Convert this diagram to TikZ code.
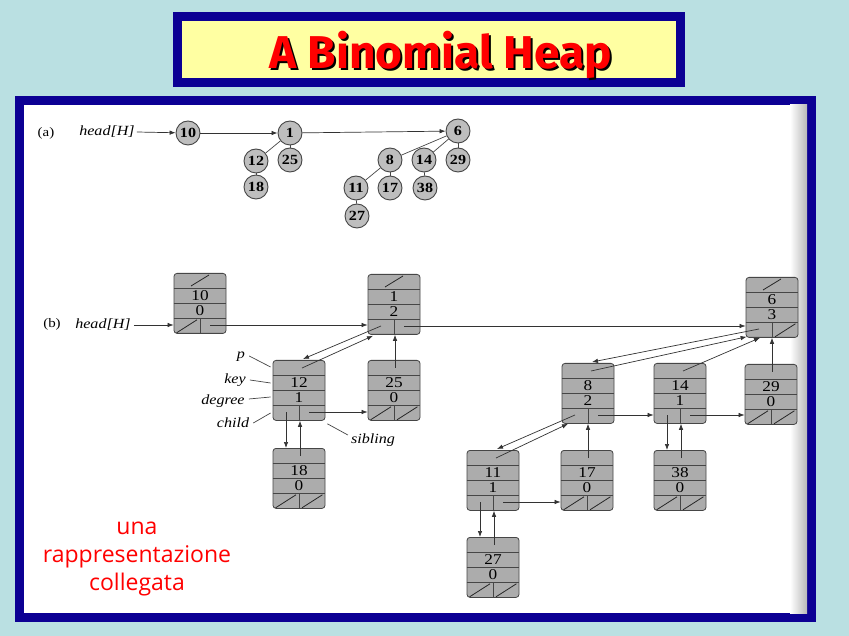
\documentclass[tikz,border=0pt]{standalone}
\usepackage{fontspec}
\setmainfont{Liberation Serif}
\newfontfamily\scanfont[FakeStretch=1.15]{Liberation Serif}
\newfontfamily\headfont{Fira Sans}
\newfontfamily\notefont{Open Sans}
\usetikzlibrary{arrows.meta,calc}

\definecolor{slidebg}{RGB}{186,224,226}
\definecolor{frameblue}{RGB}{12,0,148}
\definecolor{titleyellow}{RGB}{255,255,162}
\definecolor{titlered}{RGB}{255,0,0}
\definecolor{cellgray}{RGB}{172,172,172}
\definecolor{ballgray}{RGB}{190,190,190}
\definecolor{inkgray}{RGB}{70,70,70}

\tikzset{
  hbox/.style={draw=inkgray, fill=cellgray, rounded corners=3pt,
    minimum width=52pt, minimum height=60pt, inner sep=0pt, anchor=north,
    line width=0.8pt},
  rowline/.style={draw=inkgray, line width=0.8pt},
  nilmark/.style={draw=black!85, line width=0.8pt},
  ptr/.style={draw=black!80, line width=0.7pt, -{Latex[length=6pt,width=4.5pt]}},
  link/.style={draw=inkgray, line width=0.7pt},
  circ/.style={circle, draw=inkgray, fill=ballgray, minimum size=24pt,
    inner sep=0pt, line width=0.9pt,
    font=\scanfont\bfseries\fontsize{14}{14}\selectfont},
  fieldtxt/.style={inner sep=0pt, font=\scanfont\fontsize{15}{15}\selectfont},
  lbl/.style={inner sep=0pt, font=\scanfont\itshape\fontsize{14}{14}\selectfont},
  plainlbl/.style={inner sep=0pt, font=\scanfont\fontsize{13}{13}\selectfont},
  titletxt/.style={inner sep=0pt, anchor=base,
    font=\headfont\bfseries\fontsize{46}{46}\selectfont},
}

% text with a black drop shadow behind it
\newcommand{\dropshadow}[1]{%
  \rlap{\hspace{2pt}\raisebox{-2pt}{\color{black}#1}}#1}

% one list node: p / key / degree / child | sibling
\newcommand{\heapnode}[5]{%
  \node[hbox] (#1) at (#2,#3) {};
  \draw[rowline]
    ($(#1.north west)+(0,15)$) -- ($(#1.north east)+(0,15)$)
    ($(#1.north west)+(0,30)$) -- ($(#1.north east)+(0,30)$)
    ($(#1.north west)+(0,45)$) -- ($(#1.north east)+(0,45)$)
    ($(#1.north)+(0,45)$) -- (#1.south);
  \node[fieldtxt] (#1-key) at ($(#1.north)+(0,23)$) {#4};
  \node[fieldtxt] (#1-deg) at ($(#1.north)+(0,38)$) {#5};
  \coordinate (#1-p) at ($(#1.north)+(1,8)$);
  \coordinate (#1-c) at ($(#1.north)+(-13,52)$);
  \coordinate (#1-s) at ($(#1.north)+(10,52)$);
}
\newcommand{\nilp}[1]{\draw[nilmark] ($(#1.north)+(-9,13)$) -- ($(#1.north)+(9,2)$);}
\newcommand{\nilc}[1]{\draw[nilmark] ($(#1.south west)+(3,-1)$) -- ($(#1.south)+(-3,-14)$);}
\newcommand{\nils}[1]{\draw[nilmark] ($(#1.south)+(3,-1)$) -- ($(#1.south east)+(-3,-14)$);}

\begin{document}
\begin{tikzpicture}[x=1pt,y=-1pt]
\useasboundingbox (0,0) rectangle (849,636);
\fill[slidebg] (0,0) rectangle (849,636);

% title banner
\node[draw=frameblue, line width=9pt, fill=titleyellow, inner sep=0pt,
      minimum width=503pt, minimum height=66pt] (banner) at (429,49.5) {};
\node[titletxt, text=titlered] (title) at (441,69) {\dropshadow{A Binomial Heap}};

% figure panel
\draw[frameblue, line width=9pt, fill=white] (19.5,100.5) rectangle (811.5,617.5);
\shade[left color=white, right color=black!28] (790,105) rectangle (807,613);

% ---------- (a) the binomial trees ----------
\node[plainlbl] (la) at (46,133) {(a)};
\node[lbl] (heada) at (107,132) {head[H]};

\node[circ] (ca10) at (188,133) {10};
\node[circ] (ca1)  at (290,133) {1};
\node[circ] (ca6)  at (458,131) {6};
\node[circ] (ca12) at (256,161) {12};
\node[circ] (ca25) at (290,160) {25};
\node[circ] (ca18) at (256,187) {18};
\node[circ] (ca8)  at (390,160) {8};
\node[circ] (ca14) at (424,160) {14};
\node[circ] (ca29) at (458,160) {29};
\node[circ] (ca11) at (356,188) {11};
\node[circ] (ca17) at (390,188) {17};
\node[circ] (ca38) at (425,188) {38};
\node[circ] (ca27) at (357,216) {27};

\draw[ptr] (heada.east) ++(2,0) -- (ca10);
\draw[ptr] (ca10) -- (ca1);
\draw[ptr] (ca1) -- (ca6);
\draw[link] (ca1) -- (ca12);
\draw[link] (ca1) -- (ca25);
\draw[link] (ca12) -- (ca18);
\draw[link] (ca6) -- (ca8);
\draw[link] (ca6) -- (ca14);
\draw[link] (ca6) -- (ca29);
\draw[link] (ca8) -- (ca11);
\draw[link] (ca8) -- (ca17);
\draw[link] (ca14) -- (ca38);
\draw[link] (ca11) -- (ca27);

% ---------- (b) the linked representation ----------
\node[plainlbl] (lb) at (52,324) {(b)};
\node[lbl] (headb) at (103,325) {head[H]};

\heapnode{n10}{200}{273}{10}{0}\nilp{n10}\nilc{n10}
\heapnode{n1}{394}{274}{1}{2}\nilp{n1}
\heapnode{n6}{772}{277}{6}{3}\nilp{n6}\nils{n6}
\heapnode{n12}{299}{360}{12}{1}
\heapnode{n25}{394}{360}{25}{0}\nilc{n25}\nils{n25}
\heapnode{n18}{299}{448}{18}{0}\nilc{n18}\nils{n18}
\heapnode{n8}{588}{363}{8}{2}
\heapnode{n14}{680}{363}{14}{1}
\heapnode{n29}{771}{364}{29}{0}\nilc{n29}\nils{n29}
\heapnode{n11}{493}{450}{11}{1}
\heapnode{n17}{587}{450}{17}{0}\nilc{n17}\nils{n17}
\heapnode{n38}{680}{450}{38}{0}\nilc{n38}\nils{n38}
\heapnode{n27}{493}{537}{27}{0}\nilc{n27}\nils{n27}

% root list
\draw[ptr] ($(headb.east)+(3,0)$) -- (headb.east -| n10.west);
\draw[ptr] (n10-s) -- (n10-s -| n1.west);
\draw[ptr] (n1-s) -- (n1-s -| n6.west);

% sibling pointers
\draw[ptr] (n12-s) -- (n12-s -| n25.west);
\draw[ptr] (n8-s) -- (n8-s -| n14.west);
\draw[ptr] (n14-s) -- (n14-s -| n29.west);
\draw[ptr] (n11-s) -- (n11-s -| n17.west);

% child pointers
\draw[ptr] (n1-c) -- ($(n12.north)+(4,-1)$);
\draw[ptr] (n6-c) -- ($(n8.north)+(4,-1)$);
\draw[ptr] (n8-c) -- ($(n11.north)+(4,-1)$);
\draw[ptr] (n12-c) -- (n12-c |- n18.north);
\draw[ptr] (n14-c) -- (n14-c |- n38.north);
\draw[ptr] (n11-c) -- (n11-c |- n27.north);

% parent pointers
\draw[ptr] ($(n12-p)+(2,0)$) -- ($(n1.south)+(-21,1)$);
\draw[ptr] ($(n8-p)+(2,0)$) -- ($(n6.south west)+(1,-1)$);
\draw[ptr] ($(n14-p)+(2,0)$) -- ($(n6.south)+(-12,0)$);
\draw[ptr] ($(n11-p)+(2,0)$) -- ($(n8.south)+(-20,0)$);
\draw[ptr] (n25-p) -- (n25-p |- n1.south);
\draw[ptr] (n18-p) -- (n18-p |- n12.south);
\draw[ptr] (n29-p) -- (n29-p |- n6.south);
\draw[ptr] (n17-p) -- (n17-p |- n8.south);
\draw[ptr] (n38-p) -- (n38-p |- n14.south);
\draw[ptr] (n27-p) -- (n27-p |- n11.south);

% field names
\node[lbl] (fp) at (241,357) {p};
\node[lbl] (fkey) at (235,380) {key};
\node[lbl] (fdeg) at (223,401) {degree};
\node[lbl] (fchild) at (233,423) {child};
\node[lbl] (fsib) at (373,440) {sibling};
\draw[link] ($(fp.east)+(4,-1)$) -- ($(n12.north west)+(-2,7)$);
\draw[link] ($(fkey.east)+(4,0)$) -- ($(n12.north west)+(-2,23)$);
\draw[link] ($(fdeg.east)+(4,-2)$) -- ($(n12.north west)+(-2,37)$);
\draw[link] ($(fchild.east)+(4,0)$) -- ($(n12.north west)+(-2,53)$);
\draw[link] ($(fsib.west)+(-3,-5)$) -- ($(n12.south east)+(2,3)$);

% caption
\node[align=center, text=titlered, inner sep=0pt,
      font=\notefont\fontsize{23}{28}\selectfont] (note) at (137,559)
  {una\\rappresentazione\\collegata};
\end{tikzpicture}
\end{document}
